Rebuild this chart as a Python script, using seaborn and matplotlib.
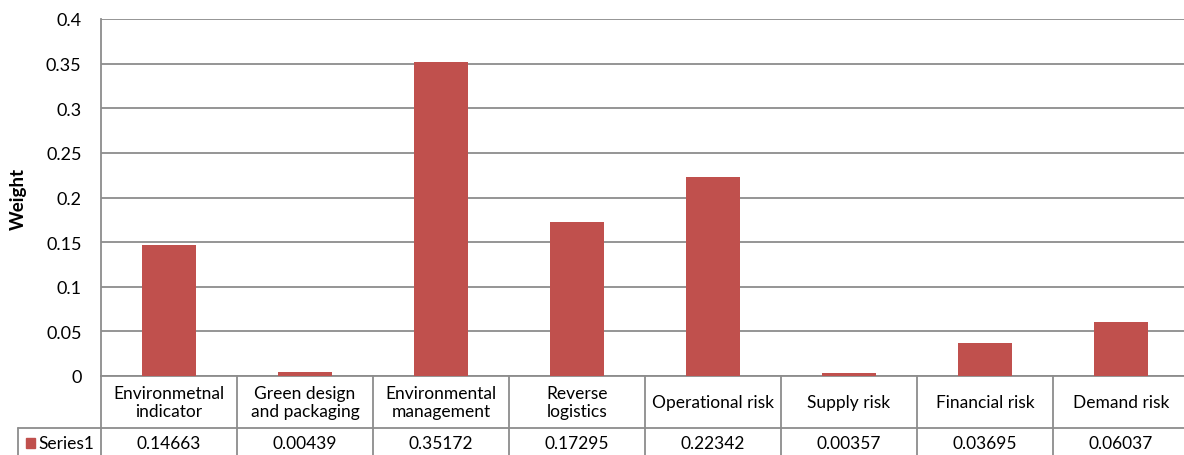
import matplotlib
matplotlib.use("Agg")
import matplotlib.pyplot as plt
from matplotlib.lines import Line2D
from matplotlib.patches import Rectangle
import matplotlib.transforms as mtransforms
import seaborn as sns
import pandas as pd

categories = [
    "Environmetnal\nindicator",
    "Green design\nand packaging",
    "Environmental\nmanagement",
    "Reverse\nlogistics",
    "Operational risk",
    "Supply risk",
    "Financial risk",
    "Demand risk",
]
weights = [0.14663, 0.00439, 0.35172, 0.17295, 0.22342, 0.00357, 0.03695, 0.06037]
value_labels = ["0.14663", "0.00439", "0.35172", "0.17295", "0.22342", "0.00357", "0.03695", "0.06037"]
series_name = "Series1"
y_ticks = [0, 0.05, 0.1, 0.15, 0.2, 0.25, 0.3, 0.35, 0.4]
y_tick_labels = ["0", "0.05", "0.1", "0.15", "0.2", "0.25", "0.3", "0.35", "0.4"]

sns.set_theme(style="white")
plt.rcParams["font.family"] = ["Lato", "DejaVu Sans"]

BAR = "#C0504D"
GRID = "#8C8C8C"
TABLE_FS = 12.5

df = pd.DataFrame({"category": categories, "weight": weights})

fig = plt.figure(figsize=(11.84, 4.56), dpi=100)
ax = fig.add_axes([101 / 1184, 79 / 456, 1088 / 1184, 357 / 456])

sns.barplot(data=df, x="category", y="weight", color=BAR, saturation=1,
            width=0.4, linewidth=0, ax=ax, zorder=3)

ax.set_ylim(0, 0.4)
ax.set_xlim(-0.5, len(categories) - 0.5)
ax.set_yticks(y_ticks)
ax.set_yticklabels(y_tick_labels, fontsize=13, color="black")
ax.tick_params(axis="y", length=0, pad=14)
ax.set_xticks([])
ax.set_xlabel("")
ax.set_ylabel("Weight", fontsize=13.5, fontweight="bold", color="black")
ax.yaxis.label.set_verticalalignment("center")
ax.yaxis.set_label_coords(-83 / 1088, 0.5)
ax.yaxis.grid(True, color=GRID, linewidth=1.3, zorder=0)
ax.set_axisbelow(True)

for side in ["top", "right"]:
    ax.spines[side].set_visible(False)
for side in ["left", "bottom"]:
    ax.spines[side].set_color(GRID)
    ax.spines[side].set_linewidth(1.3)

# data table below the plot area
trans = mtransforms.blended_transform_factory(ax.transData, ax.transAxes)
row1_bottom = -52 / 357
row2_bottom = -82 / 357
legend_left = -1.11

line_kw = dict(color=GRID, linewidth=1.3, transform=trans, clip_on=False)
ax.add_line(Line2D([legend_left, len(categories) - 0.5], [row1_bottom, row1_bottom], **line_kw))
ax.add_line(Line2D([legend_left, legend_left], [row1_bottom, row2_bottom], **line_kw))
for i in range(len(categories) + 1):
    x = i - 0.5
    ax.add_line(Line2D([x, x], [0, row2_bottom], **line_kw))

for i, (cat, val) in enumerate(zip(categories, value_labels)):
    ax.text(i, row1_bottom / 2, cat, transform=trans, ha="center", va="center",
            fontsize=TABLE_FS, linespacing=1.22, color="black")
    ax.text(i, (row1_bottom + row2_bottom) / 2, val, transform=trans,
            ha="center", va="center", fontsize=TABLE_FS, color="black")

# legend key inside the table
row2_mid = (row1_bottom + row2_bottom) / 2
ax.add_patch(Rectangle((legend_left + 0.06, row2_mid - 0.014), 0.066, 0.028,
                       transform=trans, color=BAR, clip_on=False))
ax.text(legend_left + 0.15, row2_mid, series_name, transform=trans,
        ha="left", va="center", fontsize=TABLE_FS, color="black")

fig.savefig("out.png", dpi=100)
